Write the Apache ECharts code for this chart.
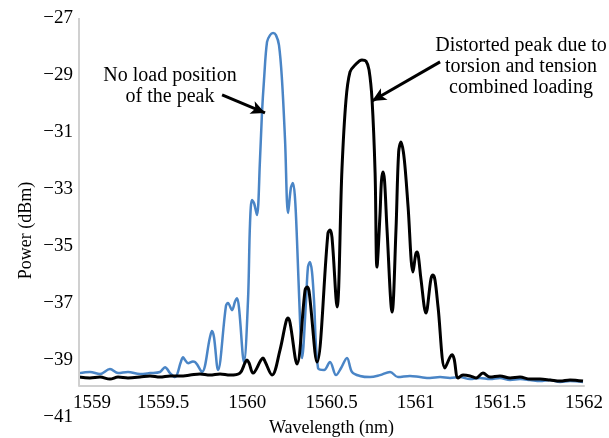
<!DOCTYPE html>
<html>
<head>
<meta charset="utf-8">
<script src="https://cdn.jsdelivr.net/npm/echarts@6/dist/echarts.min.js"></script>
<style>
html,body{margin:0;padding:0;background:#fff;}
#chart{width:609px;height:438px;}
</style>
</head>
<body>
<div id="chart"></div>
<script>
// ---- data ----
var xTicks = [1559, 1559.5, 1560, 1560.5, 1561, 1561.5, 1562];
var yTicks = [-41, -39, -37, -35, -33, -31, -29, -27];

var noLoadWavelength = [1559.000,1559.065,1559.125,1559.184,1559.232,1559.291,1559.362,1559.422,1559.481,1559.511,1559.541,1559.570,1559.606,1559.618,1559.630,1559.648,1559.677,1559.689,1559.701,1559.731,1559.778,1559.790,1559.802,1559.826,1559.873,1559.885,1559.909,1559.927,1559.939,1559.951,1559.980,1560.004,1560.016,1560.028,1560.040,1560.057,1560.075,1560.087,1560.099,1560.117,1560.135,1560.153,1560.170,1560.188,1560.206,1560.224,1560.242,1560.259,1560.271,1560.283,1560.295,1560.313,1560.325,1560.349,1560.360,1560.372,1560.384,1560.396,1560.420,1560.456,1560.491,1560.527,1560.557,1560.592,1560.622,1560.669,1560.729,1560.788,1560.848,1560.895,1560.966,1561.026,1561.085,1561.145,1561.204,1561.263,1561.323,1561.382,1561.442,1561.501,1561.561,1561.620,1561.679,1561.739,1561.798,1561.858,1561.917,1561.994];
var noLoadPower = [-39.46,-39.42,-39.49,-39.32,-39.46,-39.42,-39.49,-39.46,-39.42,-39.25,-39.46,-39.60,-39.05,-38.90,-39.00,-39.11,-39.05,-39.07,-39.15,-39.42,-38.20,-37.98,-38.20,-39.35,-37.10,-37.00,-37.25,-36.95,-36.83,-37.20,-39.07,-36.90,-34.20,-33.39,-33.50,-33.91,-32.00,-30.33,-29.18,-27.84,-27.60,-27.53,-27.60,-27.95,-29.18,-31.28,-33.84,-32.95,-32.79,-33.30,-34.79,-37.60,-38.93,-36.90,-35.75,-35.56,-35.90,-36.90,-39.28,-39.35,-39.07,-39.53,-39.28,-38.93,-39.42,-39.56,-39.60,-39.53,-39.42,-39.60,-39.56,-39.60,-39.63,-39.60,-39.63,-39.60,-39.67,-39.63,-39.67,-39.63,-39.70,-39.67,-39.70,-39.74,-39.70,-39.77,-39.74,-39.77];

var loadedWavelength = [1559.000,1559.065,1559.125,1559.184,1559.232,1559.291,1559.362,1559.422,1559.481,1559.541,1559.600,1559.660,1559.719,1559.778,1559.838,1559.897,1559.956,1559.986,1559.998,1560.010,1560.034,1560.081,1560.093,1560.105,1560.147,1560.194,1560.230,1560.242,1560.254,1560.295,1560.343,1560.355,1560.367,1560.414,1560.479,1560.491,1560.503,1560.533,1560.562,1560.586,1560.610,1560.640,1560.681,1560.705,1560.723,1560.741,1560.759,1560.770,1560.788,1560.797,1560.806,1560.815,1560.830,1560.860,1560.883,1560.899,1560.913,1560.927,1560.940,1560.955,1560.984,1561.000,1561.008,1561.016,1561.032,1561.061,1561.091,1561.103,1561.115,1561.133,1561.174,1561.204,1561.216,1561.228,1561.252,1561.281,1561.323,1561.359,1561.400,1561.442,1561.501,1561.561,1561.620,1561.679,1561.739,1561.798,1561.858,1561.917,1561.994];
var loadedPower = [-39.60,-39.63,-39.60,-39.67,-39.60,-39.63,-39.60,-39.56,-39.60,-39.56,-39.56,-39.53,-39.49,-39.53,-39.49,-39.53,-39.46,-39.10,-39.00,-39.10,-39.46,-39.00,-38.93,-39.05,-39.53,-38.65,-37.65,-37.53,-37.70,-39.14,-36.55,-36.44,-36.60,-39.07,-34.55,-34.44,-34.70,-37.14,-32.33,-29.88,-28.89,-28.65,-28.47,-28.51,-28.82,-29.88,-32.44,-35.74,-33.91,-32.70,-32.40,-32.70,-34.44,-37.32,-34.44,-31.70,-31.35,-31.70,-32.45,-33.63,-35.91,-35.30,-35.21,-35.35,-36.19,-37.35,-36.15,-36.02,-36.20,-37.14,-39.28,-38.90,-38.82,-38.95,-39.63,-39.53,-39.56,-39.63,-39.46,-39.60,-39.56,-39.63,-39.60,-39.67,-39.67,-39.70,-39.74,-39.70,-39.74];

var axisCross = -39.91;
var noLoadArrow = [[1559.850, -29.70], [1560.105, -30.33]];
var loadedArrow = [[1561.145, -28.54], [1560.741, -29.91]];
var noteNoLoad = 'No load position\nof the peak';
var noteLoaded = 'Distorted peak due to\ntorsion and tension\ncombined loading';

function zip(a, b) { return a.map(function (v, i) { return [v, b[i]]; }); }

var FONT = 'Liberation Serif';
var chart = echarts.init(document.getElementById('chart'), null, {renderer: 'canvas'});
var option = {
  animation: false,
  backgroundColor: '#ffffff',
  grid: {left: 79, right: 25, top: 18, bottom: 21, containLabel: false, outerBoundsMode: 'none'},
  xAxis: {
    type: 'value', min: xTicks[0], max: xTicks[xTicks.length - 1], interval: 0.5,
    offset: -31,
    axisLine: {show: true, lineStyle: {color: '#d0d0d0', width: 2}},
    axisTick: {show: false},
    splitLine: {show: false},
    axisLabel: {
      fontFamily: FONT, fontSize: 19, color: '#000', margin: 8,
      formatter: function (v) { return v === xTicks[0] ? '{a|' + v + '}' : String(v); },
      rich: {a: {fontFamily: FONT, fontSize: 19, color: '#000', padding: [0, 0, 0, 26]}}
    },
    name: 'Wavelength (nm)', nameLocation: 'middle', nameGap: 33, nameMoveOverlap: false,
    nameTextStyle: {fontFamily: FONT, fontSize: 18, color: '#000'}
  },
  yAxis: {
    type: 'value', min: yTicks[0], max: yTicks[yTicks.length - 1], interval: 2,
    axisLine: {show: false},
    axisTick: {show: false},
    splitLine: {show: false},
    axisLabel: {
      fontFamily: FONT, fontSize: 19, color: '#000', margin: 6,
      formatter: function (v) { return String(v).replace('-', '\u2212'); }
    },
    name: 'Power (dBm)', nameLocation: 'middle', nameGap: 44, nameRotate: 90, nameMoveOverlap: false,
    nameTextStyle: {fontFamily: FONT, fontSize: 18, color: '#000', padding: [0, 26, 0, 0]}
  },
  series: [
    {
      type: 'line', name: 'no load', data: zip(noLoadWavelength, noLoadPower),
      showSymbol: false, smooth: 0.35,
      lineStyle: {color: '#4a85c6', width: 2.5}, z: 3
    },
    {
      type: 'line', name: 'loaded', data: zip(loadedWavelength, loadedPower),
      showSymbol: false, smooth: 0.35,
      lineStyle: {color: '#000000', width: 3}, z: 4,
      markLine: {
        silent: true, animation: false,
        label: {show: false},
        data: [
          [{coord: [xTicks[0], axisCross], symbol: 'none', lineStyle: {color: '#d0d0d0', width: 2, type: 'solid'}},
           {coord: [xTicks[0], yTicks[yTicks.length - 1]], symbol: 'none'}],
          [{coord: noLoadArrow[0], symbol: 'none', lineStyle: {color: '#000', width: 3, type: 'solid'}},
           {coord: noLoadArrow[1], symbol: 'arrow', symbolSize: [10, 14]}],
          [{coord: loadedArrow[0], symbol: 'none', lineStyle: {color: '#000', width: 3, type: 'solid'}},
           {coord: loadedArrow[1], symbol: 'arrow', symbolSize: [10, 14]}]
        ]
      }
    }
  ],
  graphic: [
    {type: 'text', x: 170, y: 86, silent: true,
     style: {text: noteNoLoad, x: 0, y: 0, align: 'center', verticalAlign: 'middle',
             font: '20px "Liberation Serif"', fill: '#000', lineHeight: 21}},
    {type: 'text', x: 521, y: 67, silent: true,
     style: {text: noteLoaded, x: 0, y: 0, align: 'center', verticalAlign: 'middle',
             font: '20px "Liberation Serif"', fill: '#000', lineHeight: 21}}
  ]
};
chart.setOption(option);
</script>
</body>
</html>
